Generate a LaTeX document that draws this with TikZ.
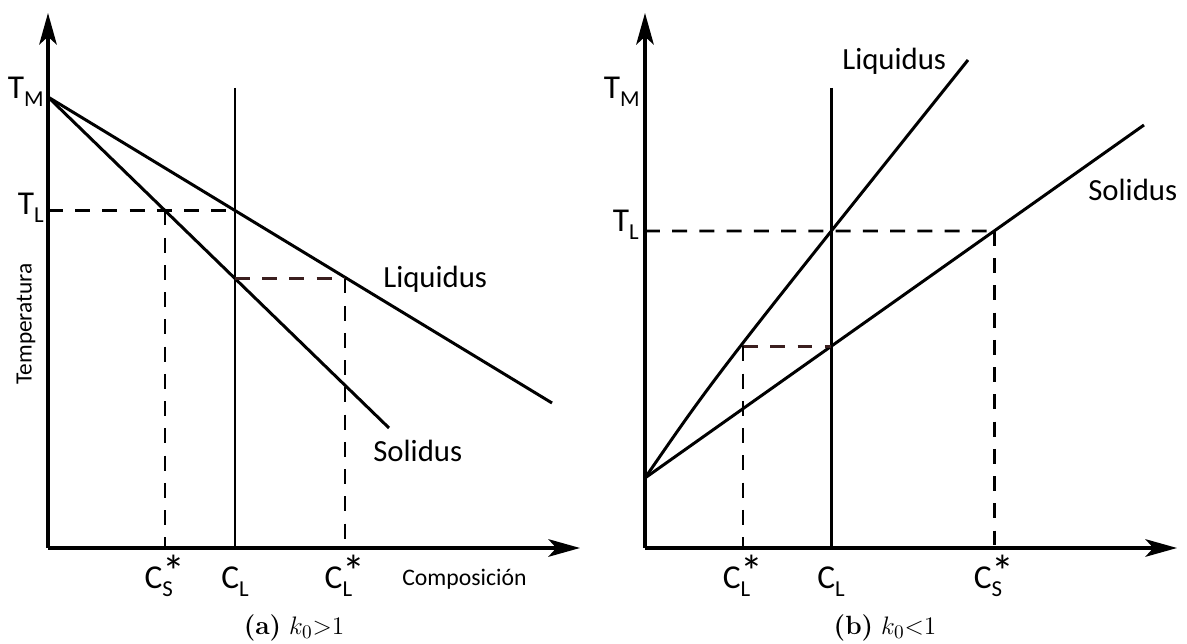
\documentclass[tikz,border=0pt]{standalone}
\usepackage{fontspec}
\newfontfamily\labfont{Carlito}
\usepackage{xcolor}
\definecolor{cd}{HTML}{3B1F1F}
\usetikzlibrary{arrows.meta}
% label with subscript, and with subscript plus asterisk
\newcommand{\tsub}[2]{#1\raisebox{-4.5pt}{\fontsize{13}{13}\selectfont #2}}
\newcommand{\cstar}[1]{C\rlap{\raisebox{-4.5pt}{\fontsize{13}{13}\selectfont #1}}\raisebox{0.7pt}{\fontsize{26}{26}\selectfont *}}

\begin{document}
\begin{tikzpicture}[x=0.02cm, y=-0.02cm,
  axis/.style={line width=1.8pt, -{Stealth[length=18pt, width=10pt, inset=4.5pt]}},
  curve/.style={line width=1.7pt},
  guide/.style={line width=1.6pt, dash pattern=on 8.5pt off 7pt},
  lab/.style={inner sep=0pt, font=\labfont\fontsize{19}{20}\selectfont},
  curvelab/.style={inner sep=0pt, font=\labfont\fontsize{17.5}{20}\selectfont, anchor=base west},
  captext/.style={inner sep=0pt, anchor=base, font=\fontsize{15}{17}\selectfont},
]
  \useasboundingbox (0,0) rectangle (1187,644);

  % (a) k0 > 1
  \coordinate (oa) at (48,548);
  \coordinate (ya) at (48,13);
  \coordinate (xa) at (580,548);
  \coordinate (tma) at (48,97);
  \coordinate (liqa) at (552,403);
  \coordinate (sola) at (389,428);
  \coordinate (cla) at (235,88);
  \coordinate (cla0) at (235,548);
  \coordinate (tla) at (intersection of tma--liqa and cla--cla0);
  \coordinate (tla0) at (tla -| oa);
  \coordinate (csa) at (intersection of tma--sola and tla0--tla);
  \coordinate (sla) at (intersection of tma--sola and cla--cla0);
  \path (sla) ++(110,0) coordinate (lsa);

  \draw[axis] (oa) -- (ya);
  \draw[axis] (oa) -- (xa);
  \draw[curve] (tma) -- (liqa);
  \draw[curve] (tma) -- (sola);
  \draw[curve] (cla) -- (cla0);
  \draw[guide] (tla0) -- (tla);
  \draw[guide] (csa) -- (csa |- oa);
  \draw[guide, cd] (sla) -- (lsa);
  \draw[guide] (lsa) -- (lsa |- oa);

  \node[lab, anchor=base east] (tmla) at (44,99) {\tsub{T}{M}};
  \node[lab, anchor=base east] (tlla) at (44,215) {\tsub{T}{L}};
  \node[lab, anchor=base] (csla) at (csa |- 0,589) {\cstar{S}};
  \node[lab, anchor=base] (clla) at (cla |- 0,589) {\tsub{C}{L}};
  \node[lab, anchor=base] (lsla) at (lsa |- 0,589) {\cstar{L}};
  \node[curvelab] (liqla) at (383,288) {Liquidus};
  \node[curvelab] (solla) at (373,462) {Solidus};
  \node[inner sep=0pt, anchor=base west, font=\labfont\fontsize{13.5}{15}\selectfont] (compa) at (402,586) {Composición};
  \node[inner sep=0pt, rotate=90, font=\labfont\fontsize{13.3}{15}\selectfont] (tempa) at (26,324) {Temperatura};
  \node[captext] (capa) at (294,635) {\textbf{(a)} $k_0{>}1$};

  % (b) k0 < 1
  \coordinate (ob) at (645,548);
  \coordinate (yb) at (645,13);
  \coordinate (xb) at (1177,548);
  \coordinate (p0) at (645,478);
  \coordinate (liqb) at (968,60);
  \coordinate (solb) at (1144,125);
  \coordinate (clb) at (831,88);
  \coordinate (clb0) at (831,548);
  \coordinate (tlb0) at (645,231);
  \coordinate (tlb1) at (1100,231);
  \coordinate (tlb) at (intersection of p0--solb and tlb0--tlb1);
  \coordinate (slb) at (intersection of p0--solb and clb--clb0);
  \path (slb) ++(-88,0) coordinate (lsb);

  \draw[axis] (ob) -- (yb);
  \draw[axis] (ob) -- (xb);
  \draw[curve] (p0) .. controls (716,375) .. (liqb);
  \draw[curve] (p0) -- (solb);
  \draw[curve] (clb) -- (clb0);
  \draw[guide] (tlb0) -- (tlb);
  \draw[guide] (tlb) -- (tlb |- ob);
  \draw[guide, cd] (lsb) -- (slb);
  \draw[guide] (lsb) -- (lsb |- ob);

  \node[lab, anchor=base east] (tmlb) at (640,99) {\tsub{T}{M}};
  \node[lab, anchor=base east] (tllb) at (639,232) {\tsub{T}{L}};
  \node[lab, anchor=base] (lslb) at (lsb |- 0,589) {\cstar{L}};
  \node[lab, anchor=base] (cllb) at (clb |- 0,589) {\tsub{C}{L}};
  \node[lab, anchor=base] (cslb) at (tlb |- 0,589) {\cstar{S}};
  \node[curvelab] (liqlb) at (842,70) {Liquidus};
  \node[curvelab] (sollb) at (1088,201) {Solidus};
  \node[captext] (capb) at (885,635) {\textbf{(b)} $k_0{<}1$};
\end{tikzpicture}
\end{document}
